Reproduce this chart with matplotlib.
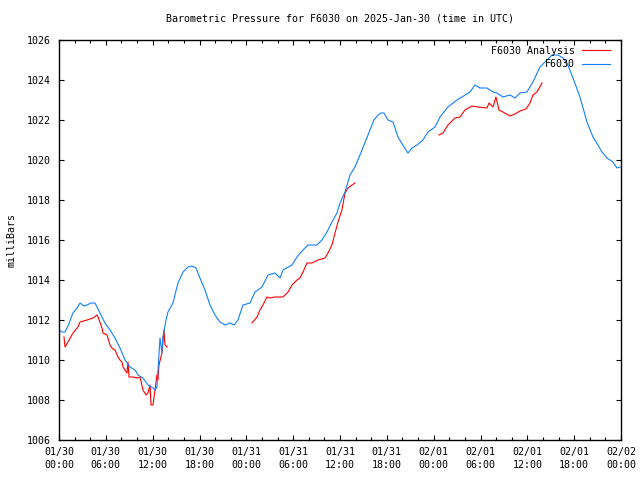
import numpy as np
import matplotlib
matplotlib.use('Agg')
import matplotlib.pyplot as plt
from matplotlib.ticker import MultipleLocator

# hours since 2025-01-30 00:00 UTC, pressure in mbar
station_hours = [0.0, 0.38, 0.77, 1.15, 1.54, 1.79, 2.31, 2.69, 3.2, 3.59, 4.1, 4.61, 4.87, 5.25,
                 5.89, 6.53, 7.17, 7.81, 8.46, 9.1, 9.74, 10.12, 10.76, 11.4, 12.04, 12.3, 12.55,
                 12.68, 12.94, 13.19, 13.32, 13.71, 13.96, 14.6, 15.24, 15.89, 16.53, 17.04, 17.55,
                 18.06, 18.7, 19.34, 19.98, 20.63, 21.27, 21.91, 22.42, 22.93, 23.57, 24.47, 25.11,
                 26.01, 26.77, 27.67, 28.31, 28.7, 29.85, 30.49, 31.26, 31.9, 33.05, 33.69, 34.33,
                 34.97, 35.61, 36.0, 36.64, 37.28, 37.92, 38.3, 38.82, 39.33, 39.84, 40.35, 40.87,
                 41.25, 41.63, 42.15, 42.79, 43.43, 44.2, 44.71, 45.22, 45.86, 46.63, 47.27, 48.17,
                 48.81, 49.83, 50.99, 51.63, 52.65, 53.29, 53.93, 54.83, 55.6, 56.11, 56.88, 57.78,
                 58.42, 59.06, 59.95, 60.72, 61.62, 62.52, 63.16, 63.93, 64.57, 65.08, 65.85, 66.74,
                 67.64, 68.41, 69.05, 69.56, 70.2, 70.97, 71.49, 71.87]
station_mbar = [1011.5, 1011.4, 1011.4, 1011.7, 1012.1, 1012.35, 1012.6, 1012.85, 1012.7, 1012.75,
                1012.85, 1012.85, 1012.65, 1012.35, 1011.85, 1011.5, 1011.1, 1010.6, 1010.0, 1009.65,
                1009.5, 1009.25, 1009.1, 1008.75, 1008.6, 1008.5, 1008.65, 1009.5, 1011.1, 1010.35,
                1011.15, 1012.0, 1012.4, 1012.85, 1013.85, 1014.4, 1014.65, 1014.7, 1014.6, 1014.1,
                1013.5, 1012.75, 1012.25, 1011.9, 1011.75, 1011.85, 1011.75, 1012.0, 1012.75, 1012.85,
                1013.4, 1013.65, 1014.25, 1014.35, 1014.1, 1014.5, 1014.75, 1015.15, 1015.5, 1015.75,
                1015.75, 1016.0, 1016.4, 1016.9, 1017.35, 1017.85, 1018.4, 1019.25, 1019.65, 1020.0,
                1020.5, 1021.0, 1021.5, 1022.0, 1022.25, 1022.35, 1022.35, 1022.0, 1021.9, 1021.15,
                1020.65, 1020.35, 1020.6, 1020.75, 1021.0, 1021.4, 1021.65, 1022.15, 1022.65, 1023.0,
                1023.15, 1023.4, 1023.75, 1023.6, 1023.6, 1023.4, 1023.35, 1023.15, 1023.25, 1023.1,
                1023.35, 1023.4, 1023.9, 1024.65, 1025.0, 1025.25, 1025.25, 1025.1, 1024.85, 1024.1,
                1023.15, 1021.9, 1021.15, 1020.75, 1020.4, 1020.1, 1019.9, 1019.6, 1019.65]

# analysis series has gaps (NaN)
analysis_hours = [0.64, 0.77, 1.15, 1.79, 2.43, 2.69, 3.59, 4.36, 4.87, 5.0, 5.51, 5.64, 6.15, 6.53,
                  6.79, 7.17, 7.56, 7.81, 8.07, 8.2, 8.71, 8.84, 8.97, 9.48, 9.99, 10.38, 10.76,
                  11.15, 11.4, 11.66, 11.79, 12.04, 12.3, 12.55, 12.68, 12.81, 13.19, 13.45, 13.58,
                  13.84, 19.0,
                  24.72, 25.37, 25.75, 26.13, 26.65, 27.03, 27.67, 28.7, 29.34, 29.85, 30.49, 30.87,
                  31.26, 31.77, 32.41, 33.18, 34.08, 34.46, 34.97, 35.36, 35.74, 36.25, 36.64, 37.02,
                  37.54, 37.92, 43.0,
                  48.68, 49.19, 49.83, 50.73, 51.37, 52.01, 52.91, 53.68, 54.83, 55.09, 55.6, 55.98,
                  56.37, 56.88, 57.78, 58.42, 59.06, 59.83, 60.34, 60.72, 61.24, 61.88]
analysis_mbar = [1011.15, 1010.65, 1010.9, 1011.35, 1011.65, 1011.9, 1012.0, 1012.1, 1012.25, 1012.15,
                 1011.6, 1011.35, 1011.25, 1010.75, 1010.6, 1010.5, 1010.15, 1010.0, 1009.9, 1009.65,
                 1009.35, 1009.9, 1009.15, 1009.15, 1009.1, 1009.15, 1008.5, 1008.25, 1008.35, 1008.75,
                 1007.75, 1007.75, 1008.5, 1009.25, 1009.0, 1009.75, 1010.35, 1011.5, 1010.75, 1010.65,
                 np.nan,
                 1011.85, 1012.15, 1012.5, 1012.75, 1013.15, 1013.1, 1013.15, 1013.15, 1013.4, 1013.75,
                 1014.0, 1014.1, 1014.4, 1014.85, 1014.85, 1015.0, 1015.1, 1015.35, 1015.75, 1016.35,
                 1016.9, 1017.5, 1018.35, 1018.6, 1018.75, 1018.85, np.nan,
                 1021.25, 1021.35, 1021.75, 1022.1, 1022.15, 1022.5, 1022.7, 1022.65, 1022.6, 1022.85,
                 1022.65, 1023.15, 1022.5, 1022.4, 1022.2, 1022.3, 1022.45, 1022.55, 1022.85, 1023.25,
                 1023.4, 1023.85]

tick_hours = list(range(0, 73, 6))
tick_labels = ['01/30\n00:00', '01/30\n06:00', '01/30\n12:00', '01/30\n18:00',
               '01/31\n00:00', '01/31\n06:00', '01/31\n12:00', '01/31\n18:00',
               '02/01\n00:00', '02/01\n06:00', '02/01\n12:00', '02/01\n18:00',
               '02/02\n00:00']

plt.rcParams['font.family'] = 'DejaVu Sans Mono'
plt.rcParams['font.size'] = 7.2

fig = plt.figure(figsize=(6.4, 4.8), dpi=100)
ax = fig.add_axes([59/640, 40/480, 562/640, 400/480])

ax.plot(analysis_hours, analysis_mbar, color='#ff0000', lw=0.8, label='F6030 Analysis')
ax.plot(station_hours, station_mbar, color='#1080ff', lw=0.8, label='F6030')

ax.set_xlim(0, 72)
ax.set_ylim(1006, 1026)
ax.set_xticks(tick_hours, tick_labels, linespacing=1.35)
ax.xaxis.set_minor_locator(MultipleLocator(2))
ax.yaxis.set_major_locator(MultipleLocator(2))

ax.tick_params(which='both', direction='in', top=True, right=True, width=0.8, color='black')
ax.tick_params(which='major', length=3.5)
ax.tick_params(which='minor', length=2.2)
ax.tick_params(axis='x', which='major', pad=5)
ax.tick_params(axis='y', which='major', pad=6)
for s in ax.spines.values():
    s.set_linewidth(1.0)

ax.set_title('Barometric Pressure for F6030 on 2025-Jan-30 (time in UTC)', pad=13, fontsize=7.2)
fig.text(12/640, 0.5, 'milliBars', rotation=90, ha='center', va='center')

# legend: text right-aligned, sample line on the right (gnuplot style)
ax.legend(loc='upper right', bbox_to_anchor=(0.984, 0.99), frameon=False, markerfirst=False,
          handlelength=2.8, handletextpad=0.7, labelspacing=0.35, borderaxespad=0, borderpad=0.2)

fig.savefig('out.png', dpi=100)
